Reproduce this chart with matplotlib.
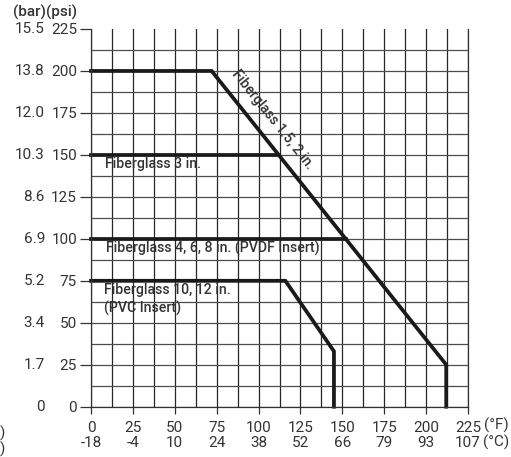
import matplotlib
matplotlib.use("Agg")
import matplotlib.pyplot as plt
import numpy as np

plt.rcParams['font.family'] = ['Roboto', 'DejaVu Sans']

# pressure rating vs temperature (°F, psi)
fg_15_2_temp = [0, 72, 212, 212]
fg_15_2_psi = [200, 200, 25, 0]

fg_3_temp = [0, 112]
fg_3_psi = [150, 150]

fg_468_temp = [0, 152]
fg_468_psi = [100, 100]

fg_1012_temp = [0, 116, 145, 145]
fg_1012_psi = [75, 75, 33, 0]

# axis labels
temp_f_ticks = [0, 25, 50, 75, 100, 125, 150, 175, 200, 225]
temp_c_labels = ["-18", "-4", "10", "24", "38", "52", "66", "79", "93", "107"]
psi_ticks = [0, 25, 50, 75, 100, 125, 150, 175, 200, 225]
bar_labels = ["0", "1.7", "3.4", "5.2", "6.9", "8.6", "10.3", "12.0", "13.8", "15.5"]

text_col = "#333333"
line_col = "#1a1a1a"
fs = 11

fig = plt.figure(figsize=(5.11, 4.57), dpi=100)
ax = fig.add_axes([91 / 511, 1 - 406.7 / 457, 377 / 511, 377.7 / 457])

ax.set_xlim(0, 225)
ax.set_ylim(0, 225)

# grid every 12.5 both ways
ax.set_xticks(temp_f_ticks)
ax.set_yticks(psi_ticks)
ax.set_xticks(np.arange(12.5, 225, 25), minor=True)
ax.set_yticks(np.arange(12.5, 225, 25), minor=True)
ax.grid(True, which="both", axis="x", color="#262626", linewidth=0.9)
ax.grid(True, which="both", axis="y", color="#4d4d4d", linewidth=0.9)
ax.set_axisbelow(True)
# no line along the top
ax.yaxis.get_major_ticks()[-1].gridline.set_visible(False)

ax.spines["top"].set_visible(False)
for s in ["left", "bottom", "right"]:
    ax.spines[s].set_color("#333333")
    ax.spines[s].set_linewidth(0.9)

ax.tick_params(which="minor", length=0)
ax.tick_params(axis="y", which="major", length=8, width=0.9, color="#333333",
               pad=2, labelsize=fs, labelcolor=text_col)
ax.tick_params(axis="x", which="major", length=5, width=0.9, color="#333333",
               pad=5, labelsize=fs, labelcolor=text_col)

ax.set_yticklabels([str(v) for v in psi_ticks])
ax.set_xticklabels([f"{f}\n{c}" for f, c in zip(temp_f_ticks, temp_c_labels)],
                   linespacing=1.1)

# bar column
for p, b in zip(psi_ticks, bar_labels):
    ax.annotate(b, xy=(0, p), xycoords=("axes fraction", "data"),
                xytext=(-46, 0), textcoords="offset pixels",
                ha="right", va="center", fontsize=fs, color=text_col)

fig.text(13 / 511, 1 - 12 / 457, "(bar)(psi)", ha="left", va="center",
         fontsize=fs, fontweight="medium", color=text_col)
fig.text(509 / 511, 1 - 425.5 / 457, "(°F)", ha="right", va="center",
         fontsize=fs, color=text_col)
fig.text(509 / 511, 1 - 442 / 457, "(°C)", ha="right", va="center",
         fontsize=fs, color=text_col)
fig.text(0, 1 - 433 / 457, ")", ha="left", va="center", fontsize=fs, color=text_col)
fig.text(0, 1 - 449 / 457, ")", ha="left", va="center", fontsize=fs, color=text_col)

lw = 2.7
ax.plot(fg_15_2_temp, fg_15_2_psi, color=line_col, lw=lw, solid_joinstyle="miter", clip_on=False)
ax.plot(fg_3_temp, fg_3_psi, color=line_col, lw=lw, clip_on=False)
ax.plot(fg_468_temp, fg_468_psi, color=line_col, lw=lw, clip_on=False)
ax.plot(fg_1012_temp, fg_1012_psi, color=line_col, lw=lw, solid_joinstyle="miter", clip_on=False)

lab = dict(fontsize=10.2, fontweight="medium", color=text_col)
ax.text(8.4, 144.5, "Fiberglass 3 in.", ha="left", va="center", **lab)
ax.text(9, 94.5, "Fiberglass 4, 6, 8 in. (PVDF Insert)", ha="left", va="center", **lab)
ax.text(7.8, 64, "Fiberglass 10, 12 in.\n(PVC Insert)", ha="left", va="center",
        linespacing=1.3, **lab)
ax.text(108.5, 171, "Fiberglass 1.5, 2 in.", ha="center", va="center",
        rotation=-51.4, rotation_mode="anchor", **lab)

fig.savefig("out.png", dpi=100)
